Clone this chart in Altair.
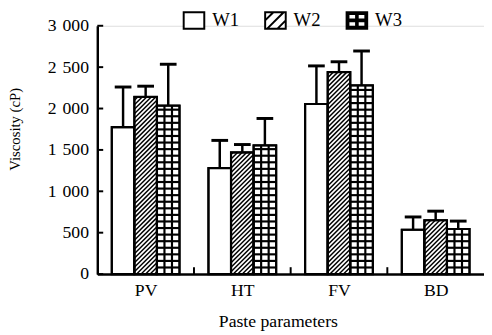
import json
import altair as alt
import pandas as pd

# ---------------- data ----------------
groups = ["PV", "HT", "FV", "BD"]
series = ["W1", "W2", "W3"]
w1_mean = [1775, 1280, 2055, 535]
w2_mean = [2140, 1470, 2440, 650]
w3_mean = [2035, 1555, 2280, 545]
w1_upper = [2260, 1615, 2515, 690]
w2_upper = [2270, 1565, 2565, 760]
w3_upper = [2535, 1880, 2695, 640]
y_ticks = [0, 500, 1000, 1500, 2000, 2500, 3000]

# ---------------- layout / style constants ----------------
W, H = 394, 253
Y_MAX = 3000
FONT = "Liberation Serif"
PXX = W / len(groups)          # px per x unit
PXY = H / Y_MAX                # px per y unit
BAR_PX = 23
BAR = BAR_PX / PXX
CAP = 17 / PXX
HATCH_PITCH = 4.6
GRID_PITCH = 6.7

means = [w1_mean, w2_mean, w3_mean]
uppers = [w1_upper, w2_upper, w3_upper]

rows = []
for i, g in enumerate(groups):
    for j, s in enumerate(series):
        c = i + 0.5 + (j - 1) * BAR
        rows.append(dict(group=g, series=s, xc=c, x0=c - BAR / 2, x1=c + BAR / 2,
                         base=0, value=means[j][i], upper=uppers[j][i],
                         cl=c - CAP / 2, cr=c + CAP / 2))
bars = pd.DataFrame(rows)

# hatch for W2 ("/" lines)
hatch = []
for r in rows:
    if r["series"] != "W2":
        continue
    hpx = r["value"] * PXY
    c = -BAR_PX + HATCH_PITCH / 2
    while c < hpx:
        xs = max(0.0, -c); ys = max(c, 0.0)
        xe = min(BAR_PX, hpx - c); ye = min(c + BAR_PX, hpx)
        if xe - xs > 0.3:
            hatch.append(dict(ax=r["x0"] + xs / PXX, ay=ys / PXY,
                              bx=r["x0"] + xe / PXX, by=ye / PXY))
        c += HATCH_PITCH
hatch = pd.DataFrame(hatch)

# grid for W3
grid = []
for r in rows:
    if r["series"] != "W3":
        continue
    hpx = r["value"] * PXY
    for k in (1, 2):
        xv = r["x0"] + k * BAR / 3
        grid.append(dict(ax=xv, ay=0, bx=xv, by=r["value"]))
    y = GRID_PITCH
    while y < hpx - 1.5:
        grid.append(dict(ax=r["x0"], ay=y / PXY, bx=r["x1"], by=y / PXY))
        y += GRID_PITCH
grid = pd.DataFrame(grid)

ytick_df = pd.DataFrame({"ax": 0.0, "bx": 6 / PXX, "ay": y_ticks})
xtick_df = pd.DataFrame({"ax": list(range(1, len(groups))), "ay": 0.0, "by": 7 / PXY})

xscale = alt.Scale(domain=[0, len(groups)], nice=False, zero=False)
yscale = alt.Scale(domain=[0, Y_MAX], nice=False)

xaxis = alt.Axis(values=[i + 0.5 for i in range(len(groups))],
                 labelExpr=json.dumps(groups) + "[floor(datum.value)]",
                 ticks=False, tickSize=0, grid=False, domainColor="black", domainWidth=2.5,
                 labelFont=FONT, labelFontSize=18, labelColor="black", labelPadding=8,
                 labelFlush=False, labelOverlap=False,
                 title="Paste parameters", titleFont=FONT, titleFontSize=18,
                 titleFontWeight="normal", titleColor="black",
                 titleX=184, titleY=39, titleAlign="center", titleBaseline="top")
yaxis = alt.Axis(values=y_ticks,
                 labelExpr="replace(format(datum.value, ','), ',', '\u2004')",
                 ticks=False, tickSize=0, grid=False, domainColor="black", domainWidth=2.5,
                 labelFont=FONT, labelFontSize=18, labelColor="black", labelPadding=9,
                 labelFlush=False, labelOverlap=False,
                 title="Viscosity (cP)", titleFont=FONT, titleFontSize=15,
                 titleFontWeight="normal", titleColor="black",
                 titleX=-76, titleY=105, titleAngle=-90, titleAlign="center",
                 titleBaseline="bottom")


def X(f):
    return alt.X(f, type="quantitative", scale=xscale, axis=xaxis)


def Y(f):
    return alt.Y(f, type="quantitative", scale=yscale, axis=yaxis)


base_bars = alt.Chart(bars)
fill_layer = base_bars.mark_rect(fill="white", stroke="black", strokeWidth=2).encode(
    x=X("x0"), x2="x1", y=Y("base"), y2="value")
hatch_layer = alt.Chart(hatch).mark_rule(color="black", strokeWidth=1.5).encode(
    x=X("ax"), x2="bx", y=Y("ay"), y2="by")
grid_layer = alt.Chart(grid).mark_rule(color="black", strokeWidth=2.2).encode(
    x=X("ax"), x2="bx", y=Y("ay"), y2="by")
outline_layer = base_bars.mark_rect(fill="white", fillOpacity=0, stroke="black",
                                    strokeWidth=2.2).encode(
    x=X("x0"), x2="x1", y=Y("base"), y2="value")
err_layer = base_bars.mark_rule(color="black", strokeWidth=2.5).encode(
    x=X("xc"), y=Y("value"), y2="upper")
cap_layer = base_bars.mark_rule(color="black", strokeWidth=3).encode(
    x=X("cl"), x2="cr", y=Y("upper"))
ytick_layer = alt.Chart(ytick_df).mark_rule(color="black", strokeWidth=2).encode(
    x=X("ax"), x2="bx", y=Y("ay"))
xtick_layer = alt.Chart(xtick_df).mark_rule(color="black", strokeWidth=2).encode(
    x=X("ax"), y=Y("ay"), y2="by")

# legend (custom symbols)
p_w1 = "M-1,-0.8H1V0.8H-1Z"
p_w2 = "M-1,-0.8H1V0.8H-1Z M-0.8,0.8L0.8,-0.8 M-1,0L-0.2,-0.8 M0.2,0.8L1,0"
p_w3 = ("M-1,-0.8H1V0.8H-1Z "
        "M-0.82,-0.62V-0.08H-0.08V-0.62Z M0.08,-0.62V-0.08H0.82V-0.62Z "
        "M-0.82,0.08V0.62H-0.08V0.08Z M0.08,0.08V0.62H0.82V0.08Z")
legend_df = pd.DataFrame({"series": series})
leg = alt.Legend(orient="none", legendX=87, legendY=-17, direction="horizontal",
                 title=None, symbolSize=440, symbolStrokeWidth=2,
                 symbolStrokeColor="black", symbolOpacity=1,
                 labelFont=FONT, labelFontSize=19, labelColor="black",
                 labelOffset=7, columnPadding=22, padding=0)
legend_layer = alt.Chart(legend_df).mark_point(
    filled=True, opacity=1, strokeWidth=2, strokeOpacity=1).encode(
    shape=alt.Shape("series:N", scale=alt.Scale(domain=series, range=[p_w1, p_w2, p_w3]),
                    legend=leg),
    fill=alt.Fill("series:N", scale=alt.Scale(domain=series, range=["white", "white", "black"]),
                  legend=leg),
    stroke=alt.Stroke("series:N", scale=alt.Scale(domain=series, range=["black", "black", "black"]),
                      legend=leg),
).transform_filter("false")

chart = alt.layer(fill_layer, hatch_layer, grid_layer, outline_layer, err_layer,
                  cap_layer, ytick_layer, xtick_layer, legend_layer).properties(
    width=W, height=H,
    autosize=alt.AutoSizeParams(type="none"),
    padding={"left": 91, "top": 15, "right": 0, "bottom": 60},
).configure_view(stroke=None).configure(background="white")

chart.save("out.html", embed_options={"renderer": "svg", "actions": False})
